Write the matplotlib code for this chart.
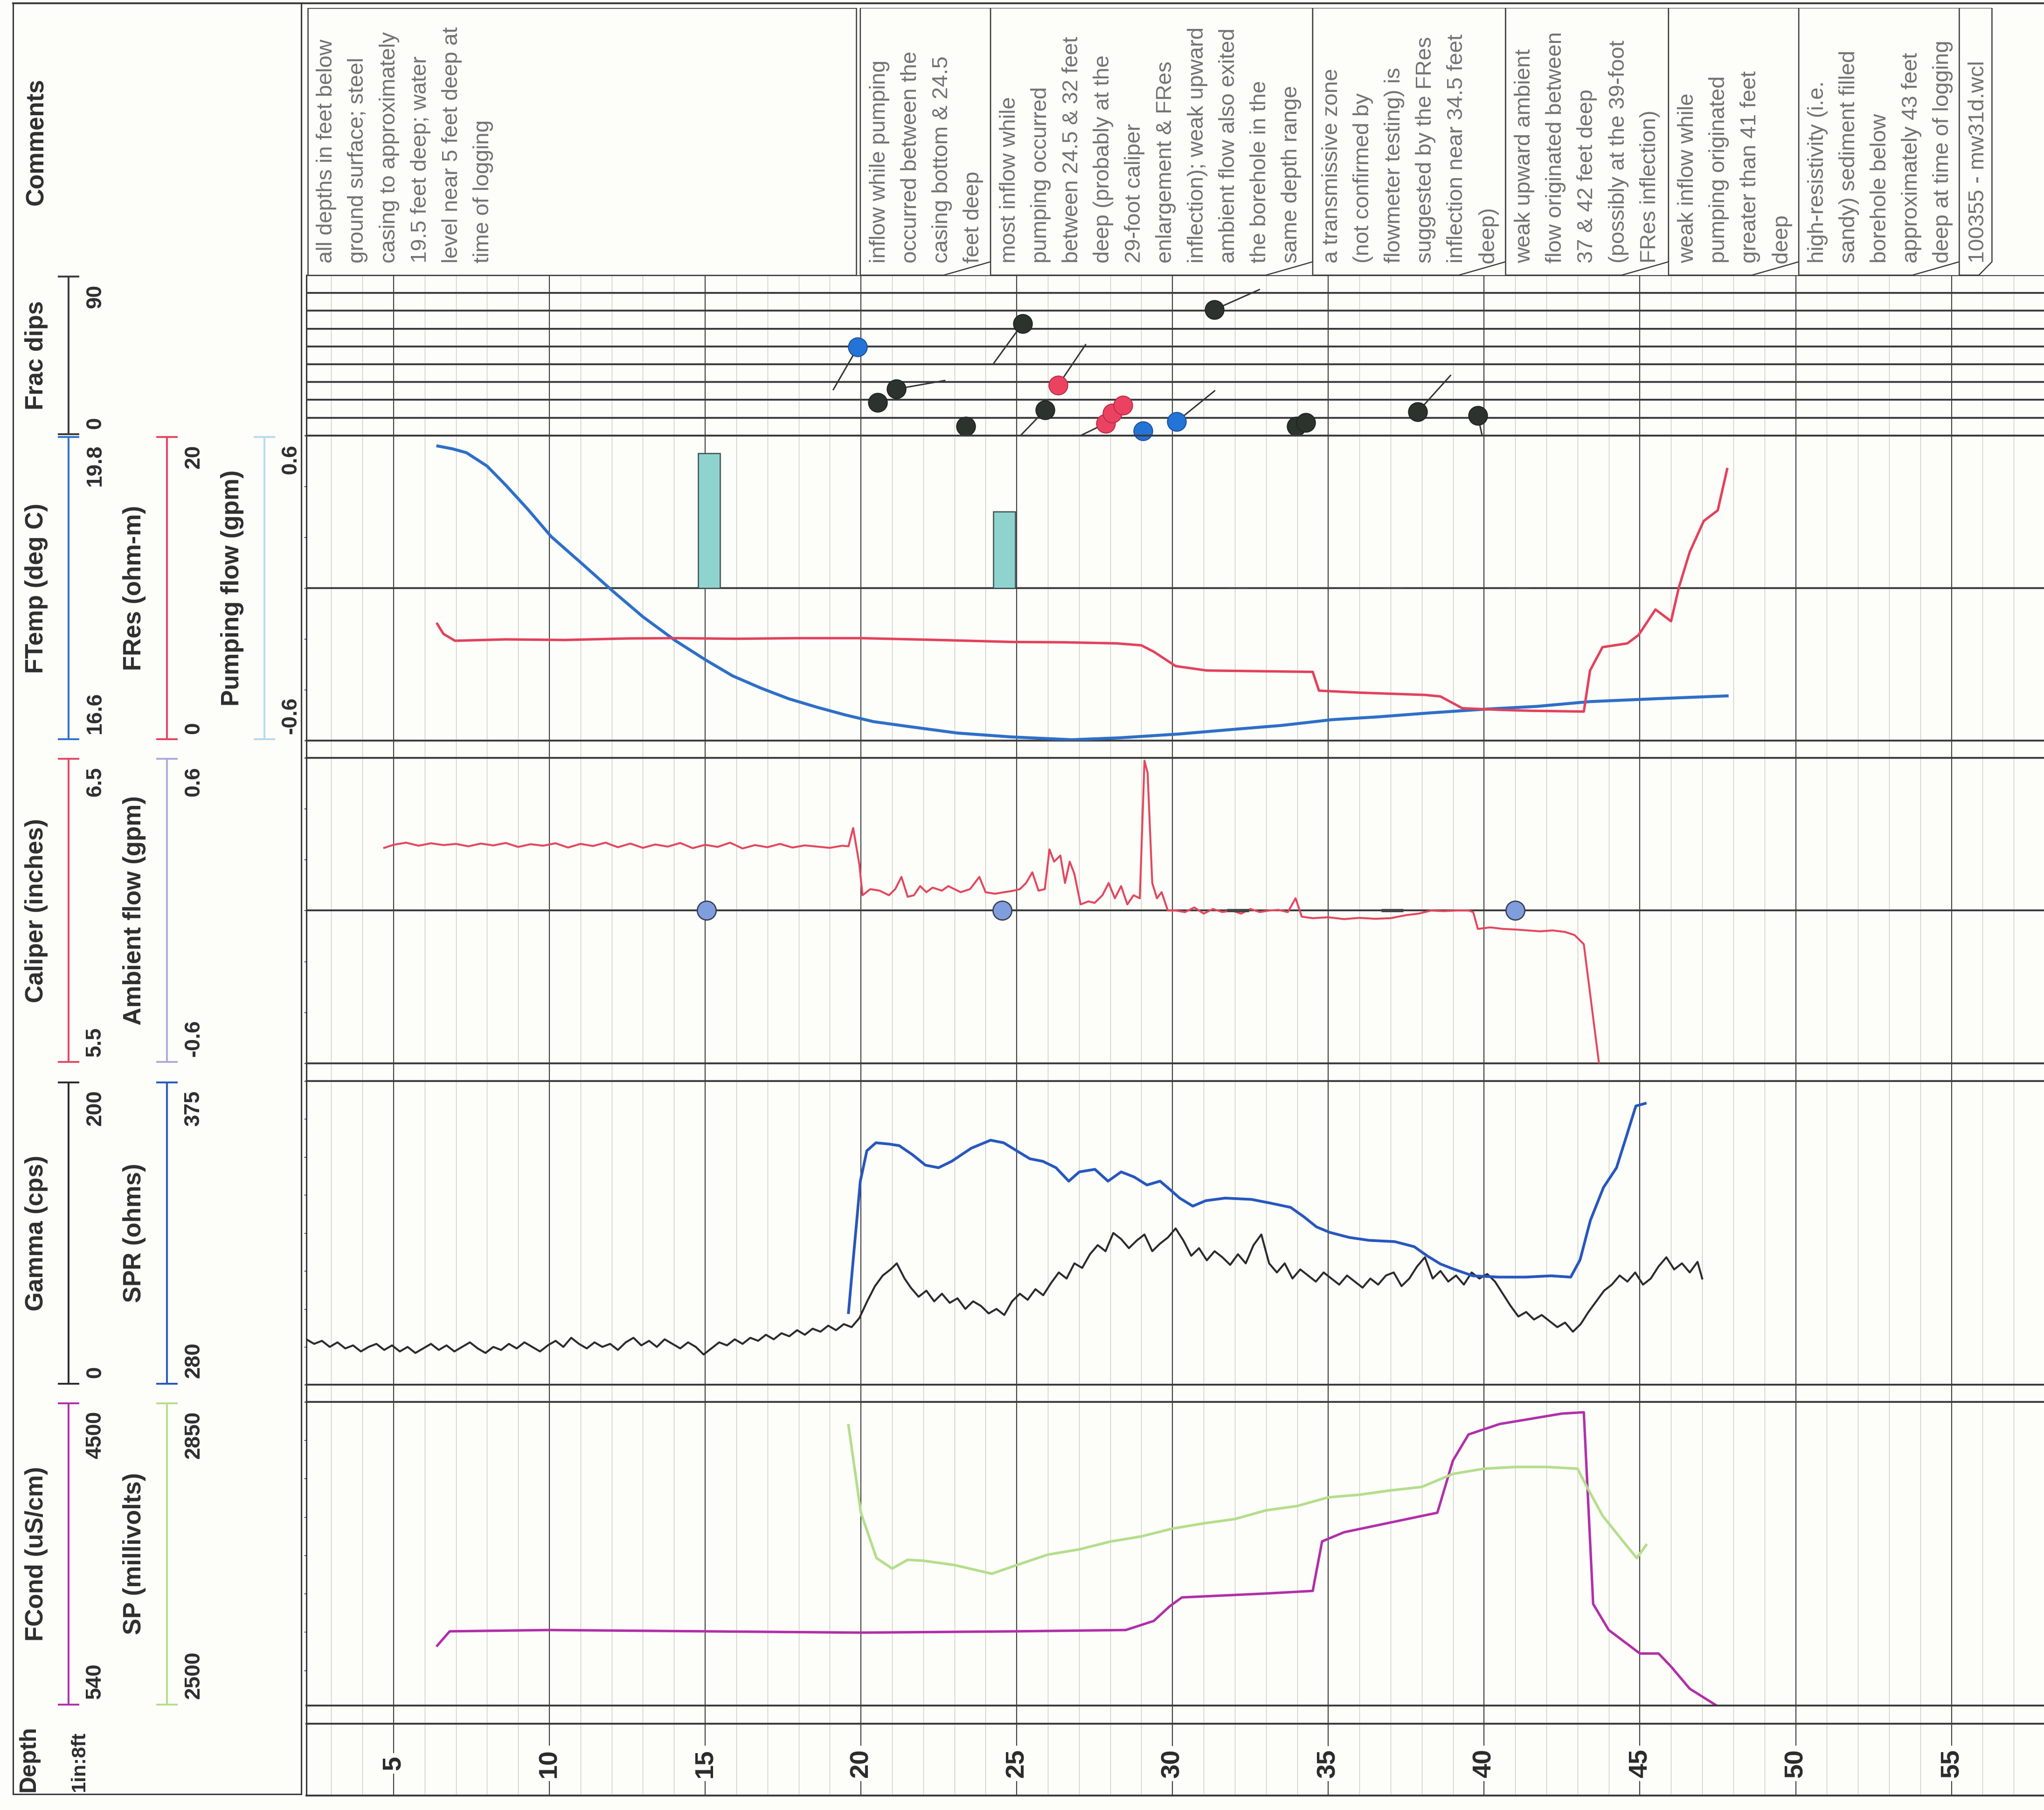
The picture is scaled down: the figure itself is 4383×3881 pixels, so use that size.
import matplotlib
matplotlib.use("Agg")
import numpy as np
import matplotlib.pyplot as plt
from matplotlib import font_manager
from matplotlib.patches import Polygon
from matplotlib.ticker import MultipleLocator

# ---------------------------------------------------------------- data
DEPTH_RANGE = (2.2, 57.97)
DEPTH_LABELS = [5, 10, 15, 20, 25, 30, 35, 40, 45, 50, 55]

# fracture tadpoles: depth (ft), dip (deg), tail azimuth (deg, nan = no tail), class
FRAC_DEPTH = [19.90, 20.54, 21.14, 23.37, 25.19, 25.91, 26.33, 27.85, 28.07, 28.41,
              29.06, 30.13, 31.35, 33.98, 34.28, 37.87, 39.80]
FRAC_DIP = [49.6, 18.5, 26.1, 5.2, 62.9, 14.3, 28.2, 6.8, 12.5, 17.0,
            2.6, 7.8, 70.7, 5.2, 7.3, 13.3, 11.2]
FRAC_AZIMUTH = [210, np.nan, 80, np.nan, 216, 224, 34, 244, np.nan, np.nan,
                np.nan, 51, 66, 190, np.nan, 42, 168]
FRAC_CLASS = ["open", "closed", "closed", "closed", "closed", "closed", "flowing",
              "flowing", "flowing", "flowing", "open", "open", "closed", "closed",
              "closed", "closed", "closed"]

FTEMP_DEPTH = [6.42, 6.9, 7.34, 8.0, 8.6, 9.3, 10.06, 11.0, 12.03, 13.0, 14.04, 15.0,
               15.88, 16.8, 17.68, 18.6, 19.5, 20.4, 21.5, 23.1, 24.8, 26.76, 28.3,
               30.2, 32.0, 33.5, 35.1, 36.6, 38.2, 40.0, 41.7, 43.4, 45.5, 47.8]
FTEMP = [19.69, 19.66, 19.62, 19.48, 19.28, 19.03, 18.74, 18.47, 18.17, 17.90, 17.65,
         17.45, 17.28, 17.15, 17.04, 16.95, 16.87, 16.80, 16.75, 16.68, 16.64, 16.61,
         16.63, 16.67, 16.72, 16.76, 16.82, 16.85, 16.89, 16.93, 16.96, 17.01, 17.04, 17.07]

FRES_DEPTH = [6.4, 6.6, 6.97, 8.6, 10.5, 12.5, 14.04, 16.0, 18.0, 20.0, 22.5, 24.9,
              26.5, 28.2, 29.0, 29.4, 30.1, 31.1, 33.0, 34.5, 34.7, 36.0, 38.1, 38.6,
              39.3, 40.5, 41.5, 43.2, 43.4, 43.8, 44.6, 44.96, 45.5, 46.0, 46.25, 46.6,
              47.05, 47.5, 47.8]
FRES = [7.66, 7.0, 6.55, 6.64, 6.60, 6.70, 6.72, 6.68, 6.72, 6.72, 6.60, 6.47,
        6.45, 6.38, 6.25, 5.83, 4.89, 4.60, 4.55, 4.51, 3.28, 3.15, 3.00, 2.90,
        2.13, 2.02, 1.96, 1.91, 4.60, 6.13, 6.38, 6.93, 8.60, 7.83, 10.04, 12.37,
        14.40, 15.10, 17.80]

PUMP_DEPTH = [15.13, 24.60, 32.10, 37.10, 41.10]
PUMP_FLOW = [0.53, 0.30, 0.0, 0.0, 0.0]

CALIPER_DEPTH = [4.7, 5.0, 5.4, 5.8, 6.2, 6.6, 7.0, 7.4, 7.8, 8.2, 8.6, 9.0, 9.4, 9.8,
                 10.2, 10.6, 11.0, 11.4, 11.8, 12.2, 12.6, 13.0, 13.4, 13.8, 14.2, 14.6,
                 15.0, 15.4, 15.8, 16.2, 16.6, 17.0, 17.4, 17.8, 18.2, 18.6, 19.0, 19.4,
                 19.6, 19.75, 19.95, 20.05, 20.3, 20.6, 20.9, 21.1, 21.3, 21.5, 21.7, 21.9,
                 22.1, 22.3, 22.6, 22.8, 23.0, 23.2, 23.5, 23.8, 24.0, 24.3, 24.6, 24.9,
                 25.1, 25.3, 25.5, 25.7, 25.9, 26.05, 26.2, 26.4, 26.55, 26.7, 26.85, 27.05,
                 27.3, 27.5, 27.75, 27.95, 28.15, 28.35, 28.55, 28.75, 28.95, 29.1, 29.2,
                 29.35, 29.5, 29.65, 29.85, 30.1, 30.4, 30.7, 31.0, 31.3, 31.6, 31.9, 32.2,
                 32.5, 32.8, 33.1, 33.4, 33.7, 33.95, 34.15, 34.5, 35.0, 35.5, 36.0, 36.5,
                 37.0, 37.5, 37.9, 38.3, 38.7, 39.1, 39.5, 39.65, 39.8, 40.2, 40.6, 41.0,
                 41.4, 41.8, 42.2, 42.6, 42.9, 43.2, 43.7]
CALIPER = [6.205, 6.215, 6.222, 6.212, 6.220, 6.214, 6.218, 6.210, 6.219, 6.213, 6.221,
           6.208, 6.217, 6.212, 6.220, 6.206, 6.218, 6.211, 6.222, 6.207, 6.219, 6.205,
           6.216, 6.209, 6.221, 6.204, 6.215, 6.208, 6.222, 6.203, 6.214, 6.207, 6.218,
           6.206, 6.213, 6.209, 6.205, 6.212, 6.210, 6.270, 6.150, 6.050, 6.070, 6.065,
           6.050, 6.070, 6.110, 6.045, 6.050, 6.080, 6.060, 6.075, 6.065, 6.080, 6.070,
           6.060, 6.070, 6.110, 6.060, 6.055, 6.060, 6.065, 6.070, 6.090, 6.125, 6.065,
           6.070, 6.200, 6.160, 6.180, 6.090, 6.160, 6.120, 6.020, 6.030, 6.025, 6.050,
           6.090, 6.040, 6.080, 6.020, 6.050, 6.040, 6.490, 6.450, 6.090, 6.040, 6.060,
           6.000, 6.000, 5.995, 6.010, 5.990, 6.005, 5.995, 6.000, 5.990, 6.005, 5.995,
           6.000, 6.002, 5.995, 6.040, 5.980, 5.975, 5.978, 5.972, 5.976, 5.973, 5.975,
           5.985, 5.990, 6.000, 5.998, 6.000, 6.000, 5.995, 5.940, 5.945, 5.940, 5.938,
           5.935, 5.932, 5.935, 5.930, 5.920, 5.890, 5.490]

AMBIENT_POINT_DEPTH = [15.04, 24.54, 41.00]
AMBIENT_POINT_FLOW = [0.0, 0.0, 0.0]
AMBIENT_BAR_DEPTH = [32.10, 37.05]
AMBIENT_BAR_FLOW = [0.0, 0.0]

GAMMA_DEPTH = [2.2, 2.45, 2.7, 2.95, 3.2, 3.45, 3.7, 3.95, 4.2, 4.45, 4.7, 4.95, 5.2,
               5.45, 5.7, 5.95, 6.2, 6.45, 6.7, 6.95, 7.2, 7.45, 7.7, 7.95, 8.2, 8.45,
               8.7, 8.95, 9.2, 9.45, 9.7, 9.95, 10.2, 10.45, 10.7, 10.95, 11.2, 11.45,
               11.7, 11.95, 12.2, 12.45, 12.7, 12.95, 13.2, 13.45, 13.7, 13.95, 14.2,
               14.45, 14.7, 14.95, 15.2, 15.45, 15.7, 15.95, 16.2, 16.45, 16.7, 16.95,
               17.2, 17.45, 17.7, 17.95, 18.2, 18.45, 18.7, 18.95, 19.2, 19.45, 19.7,
               19.95, 20.2, 20.45, 20.7, 20.95, 21.15, 21.4, 21.6, 21.85, 22.1, 22.35,
               22.6, 22.85, 23.1, 23.35, 23.6, 23.85, 24.1, 24.35, 24.6, 24.85, 25.1,
               25.35, 25.6, 25.85, 26.1, 26.35, 26.6, 26.85, 27.1, 27.35, 27.6, 27.85,
               28.1, 28.35, 28.6, 28.85, 29.1, 29.35, 29.6, 29.85, 30.1, 30.35, 30.6,
               30.85, 31.1, 31.35, 31.6, 31.85, 32.1, 32.35, 32.6, 32.85, 33.1, 33.35,
               33.6, 33.85, 34.1, 34.35, 34.6, 34.85, 35.1, 35.35, 35.6, 35.85, 36.1,
               36.35, 36.6, 36.85, 37.1, 37.35, 37.6, 37.85, 38.1, 38.35, 38.6, 38.85,
               39.1, 39.35, 39.6, 39.85, 40.1, 40.35, 40.6, 40.85, 41.1, 41.35, 41.6,
               41.85, 42.1, 42.35, 42.6, 42.85, 43.1, 43.35, 43.6, 43.85, 44.1, 44.35,
               44.6, 44.85, 45.1, 45.35, 45.6, 45.85, 46.1, 46.35, 46.6, 46.85, 47.0]
GAMMA = [30, 27, 29, 25, 28, 24, 26, 22, 25, 27, 23, 26, 22, 25, 21, 24, 27, 23, 26,
         22, 25, 28, 24, 21, 25, 23, 27, 24, 28, 25, 22, 26, 29, 25, 31, 27, 24, 28,
         25, 27, 23, 28, 31, 26, 29, 25, 30, 27, 24, 28, 25, 20, 24, 28, 26, 30, 27,
         31, 29, 33, 30, 34, 32, 36, 33, 37, 35, 39, 36, 40, 38, 44, 55, 65, 72, 76,
         80, 70, 64, 58, 62, 55, 60, 54, 57, 50, 55, 52, 47, 50, 46, 55, 60, 56, 63,
         59, 67, 74, 70, 80, 77, 86, 92, 88, 100, 96, 90, 95, 99, 88, 93, 97, 103, 95,
         85, 90, 82, 88, 84, 79, 86, 80, 92, 99, 80, 74, 80, 70, 76, 72, 68, 74, 70,
         66, 72, 68, 64, 70, 66, 72, 74, 65, 70, 78, 84, 70, 75, 68, 72, 66, 74, 70,
         73, 68, 60, 52, 45, 48, 43, 46, 42, 38, 41, 35, 40, 48, 55, 62, 66, 72, 68,
         74, 66, 70, 78, 84, 76, 80, 74, 81, 70]

SPR_DEPTH = [19.60, 19.77, 19.98, 20.19, 20.48, 20.90, 21.23, 21.65, 22.07, 22.49,
             22.91, 23.54, 24.16, 24.58, 25.00, 25.42, 25.84, 26.26, 26.67, 27.01,
             27.51, 27.93, 28.35, 28.77, 29.18, 29.60, 29.94, 30.23, 30.65, 31.07,
             31.69, 32.53, 33.16, 33.79, 34.21, 34.62, 35.04, 35.67, 36.30, 37.13,
             37.76, 38.18, 38.60, 39.02, 39.64, 40.48, 41.32, 42.15, 42.78, 43.08,
             43.41, 43.83, 44.25, 44.58, 44.87, 45.17]
SPR = [302.6, 321.1, 343.7, 353.2, 355.7, 355.3, 354.8, 352.0, 348.7, 347.9, 349.9,
       354.0, 356.5, 355.7, 353.2, 350.7, 349.9, 347.9, 343.7, 346.6, 347.4, 343.7,
       346.6, 345.0, 342.5, 343.7, 340.9, 338.4, 335.9, 337.6, 338.4, 338.0, 336.8,
       335.5, 332.6, 329.4, 327.7, 326.1, 325.2, 324.8, 323.2, 320.3, 317.8, 316.2,
       314.1, 313.7, 313.7, 314.1, 313.7, 319.1, 331.4, 341.7, 347.9, 358.1, 367.2, 368.0]

FCOND_DEPTH = [6.4, 6.8, 10.0, 15.0, 20.0, 25.0, 28.5, 29.4, 29.9, 30.3, 33.0, 34.5,
               34.8, 35.5, 38.5, 39.0, 39.5, 40.5, 42.5, 43.2, 43.5, 44.0, 45.0, 45.6,
               46.0, 46.6, 47.6]
FCOND = [1322, 1509, 1526, 1509, 1492, 1509, 1526, 1645, 1832, 1951, 2002, 2036, 2681,
         2800, 3055, 3735, 4075, 4211, 4347, 4364, 1866, 1526, 1220, 1220, 1050, 761, 506]

SP_DEPTH = [19.6, 20.0, 20.5, 21.0, 21.5, 22.0, 23.0, 24.2, 25.0, 26.0, 27.0, 28.0,
            29.0, 30.0, 31.0, 32.0, 33.0, 34.0, 35.0, 36.0, 37.0, 38.0, 39.0, 40.0,
            41.0, 42.0, 43.0, 43.3, 43.8, 44.4, 44.9, 45.2]
SP = [2823, 2722, 2670, 2658, 2668, 2667, 2662, 2652, 2662, 2674, 2680, 2689, 2695,
      2704, 2710, 2715, 2725, 2730, 2740, 2743, 2748, 2752, 2767, 2773, 2775, 2775,
      2773, 2752, 2719, 2692, 2670, 2685]

# curve scales (left, right) as shown in the header
FRAC_SCALE = (0, 90)
FTEMP_SCALE = (16.6, 19.8)
FRES_SCALE = (0, 20)
PUMP_SCALE = (-0.6, 0.6)
CALIPER_SCALE = (5.5, 6.5)
AMBIENT_SCALE = (-0.6, 0.6)
GAMMA_SCALE = (0, 200)
SPR_SCALE = (280, 375)
FCOND_SCALE = (540, 4500)
SP_SCALE = (2500, 2850)

# comment intervals (top, bottom), text, and whether the box has a pointer corner
COMMENTS = [
    (2.24, 19.85, "all depths in feet below\nground surface; steel\ncasing to approximately\n"
                  "19.5 feet deep; water\nlevel near 5 feet deep at\ntime of logging", False),
    (19.98, 24.16, "inflow while pumping\noccurred between the\ncasing bottom & 24.5\n"
                   "feet deep", True),
    (24.16, 34.50, "most inflow while\npumping occurred\nbetween 24.5 & 32 feet\n"
                   "deep (probably at the\n29-foot caliper\nenlargement & FRes\n"
                   "inflection); weak upward\nambient flow also exited\n"
                   "the borehole in the\nsame depth range", True),
    (34.50, 40.69, "a transmissive zone\n(not confirmed by\nflowmeter testing) is\n"
                   "suggested by the FRes\ninflection near 34.5 feet\ndeep)", True),
    (40.69, 45.92, "weak upward ambient\nflow originated between\n37 & 42 feet deep\n"
                   "(possibly at the 39-foot\nFRes inflection)", True),
    (45.92, 50.10, "weak inflow while\npumping originated\ngreater than 41 feet\ndeep", True),
    (50.10, 55.25, "high-resistivity (i.e.\nsandy) sediment filled\nborehole below\n"
                   "approximately 43 feet\ndeep at time of logging", True),
    (55.25, 56.30, "100355 - mw31d.wcl", True),
]

# ---------------------------------------------------------------- style
PAPER = "#fdfdf9"
INK = "#3a3a3a"
C_TEMP = "#2e6fc8"
C_RES = "#e2425c"
C_PUMP = "#b7dbec"
C_CAL = "#e2485e"
C_AMB = "#aaaadb"
C_GAMMA = "#2b2b2b"
C_SPR = "#2757be"
C_COND = "#b12fa8"
C_SP = "#b4de8c"
FRAC_COLORS = {"open": "#2473d6", "closed": "#2c322c", "flowing": "#ec4262"}
FRAC_EDGES = {"open": "#1b4f9a", "closed": "#1f231f", "flowing": "#b82b48"}

names = {f.name for f in font_manager.fontManager.ttflist}
if "Liberation Sans Narrow" in names:
    HEAD_FONT, HEAD_SIZE, NUM_SIZE = "Liberation Sans Narrow", 46, 40
else:
    HEAD_FONT, HEAD_SIZE, NUM_SIZE = "Liberation Sans", 38, 33
BODY_FONT = "Liberation Sans"

W_PX, H_PX, DPI = 4383, 3881, 100
REF_W, REF_H = 1568.0, 1388.0          # layout frame used below
PLOT_X0, PLOT_X1 = 235.0, 1568.0
TRACKS = {
    "comments": (6, 211),
    "frac": (211, 334),
    "temp": (334, 568),
    "caliper": (581, 815.5),
    "gamma": (829, 1062),
    "cond": (1075, 1308),
    "depth": (1322, 1377),
}

fig = plt.figure(figsize=(W_PX / DPI, H_PX / DPI), dpi=DPI, facecolor=PAPER)

# overlay in layout units for the header column and outer frame
frame = fig.add_axes([0, 0, 1, 1], zorder=0)
frame.set_xlim(0, REF_W)
frame.set_ylim(REF_H, 0)
frame.axis("off")
frame.patch.set_alpha(0)


def plot_axes(y0, y1, zorder=2):
    ax = fig.add_axes([PLOT_X0 / REF_W, 1 - y1 / REF_H,
                       (PLOT_X1 - PLOT_X0) / REF_W, (y1 - y0) / REF_H], zorder=zorder)
    ax.set_xlim(*DEPTH_RANGE)
    ax.patch.set_alpha(0)
    ax.tick_params(left=False, right=False, bottom=False, top=False,
                   labelleft=False, labelbottom=False, labelright=False)
    for s in ax.spines.values():
        s.set_visible(False)
    return ax


def twin(ax):
    t = ax.twinx()
    t.patch.set_alpha(0)
    t.tick_params(left=False, right=False, labelright=False, labelleft=False)
    for s in t.spines.values():
        s.set_visible(False)
    return t


def frame_track(ax, lw=2.8):
    for side in ("top", "bottom"):
        ax.spines[side].set_visible(True)
        ax.spines[side].set_color(INK)
        ax.spines[side].set_linewidth(lw)


# background depth grid
grid = plot_axes(TRACKS["frac"][0], TRACKS["depth"][1], zorder=1)
grid.set_ylim(0, 1)
grid.xaxis.set_major_locator(MultipleLocator(5))
grid.xaxis.set_minor_locator(MultipleLocator(1))
grid.tick_params(which="both", bottom=False, labelbottom=False)
grid.grid(which="minor", axis="x", color="#c9c9c4", lw=1.0)
grid.grid(which="major", axis="x", color="#3c3c3c", lw=1.5)
grid.spines["left"].set_visible(True)
grid.spines["left"].set_color(INK)
grid.spines["left"].set_linewidth(2.2)

# ---------------------------------------------------------------- comments
com = plot_axes(*TRACKS["comments"])
com.set_ylim(0, 1)
for x0, x1, txt, pointer in COMMENTS:
    cut = min(1.5, 0.4 * (x1 - x0)) if pointer else 0.0
    rise = 0.05 if pointer else 0.0
    poly = Polygon([(x0, 1.0), (x1, 1.0), (x1, rise), (x1 - cut, 0.0), (x0, 0.0)],
                   closed=True, facecolor=PAPER, edgecolor=INK, lw=1.8)
    com.add_patch(poly)
    com.text(x0 + 0.28, 0.045, txt, rotation=90, rotation_mode="anchor", ha="left",
             va="top", fontsize=34, color="#727272", family=BODY_FONT, linespacing=1.68)

# ---------------------------------------------------------------- fracture dips
frac = plot_axes(*TRACKS["frac"])
frac.set_ylim(*FRAC_SCALE)
frac.set_yticks(np.arange(FRAC_SCALE[0], FRAC_SCALE[1] + 1, 10))
frac.tick_params(left=False, labelleft=False)
frac.grid(axis="y", color=INK, lw=2.8)
frac.set_axisbelow(True)
TAIL_PX = 105
for d, dip, az, kind in zip(FRAC_DEPTH, FRAC_DIP, FRAC_AZIMUTH, FRAC_CLASS):
    if not np.isnan(az):
        p0 = frac.transData.transform((d, dip))
        a = np.deg2rad(az)
        p1 = p0 + TAIL_PX * np.array([np.sin(a), np.cos(a)])
        q1 = frac.transData.inverted().transform(p1)
        frac.plot([d, q1[0]], [dip, q1[1]], color="#333333", lw=2.2, zorder=3)
    frac.plot(d, dip, "o", ms=29, color=FRAC_COLORS[kind], mec=FRAC_EDGES[kind],
              mew=1.5, zorder=4, clip_on=False)

# ---------------------------------------------------------------- temperature / resistivity / pumping
tax = plot_axes(*TRACKS["temp"])
frame_track(tax)
tax.set_ylim(*PUMP_SCALE)
tax.axhline(0, color=INK, lw=2.8)
tax.bar(PUMP_DEPTH, PUMP_FLOW, width=0.7, color="#8fd3cf", edgecolor="#3e4d4d",
        lw=1.8, zorder=2)
ttemp = twin(tax)
ttemp.set_ylim(*FTEMP_SCALE)
ttemp.plot(FTEMP_DEPTH, FTEMP, color=C_TEMP, lw=4.6)
tres = twin(tax)
tres.set_ylim(*FRES_SCALE)
tres.plot(FRES_DEPTH, FRES, color=C_RES, lw=3.8)

# ---------------------------------------------------------------- caliper / ambient flow
cax = plot_axes(*TRACKS["caliper"])
frame_track(cax)
cax.set_ylim(*AMBIENT_SCALE)
cax.axhline(0, color=INK, lw=2.8)
ccal = twin(cax)
ccal.set_ylim(*CALIPER_SCALE)
ccal.plot(CALIPER_DEPTH, CALIPER, color=C_CAL, lw=3.0, zorder=3)
amb = twin(cax)
amb.set_ylim(*AMBIENT_SCALE)
amb.bar(AMBIENT_BAR_DEPTH, AMBIENT_BAR_FLOW, width=0.7, color="#555555",
        edgecolor="#444444", lw=5, zorder=2)
amb.plot(AMBIENT_POINT_DEPTH, AMBIENT_POINT_FLOW, "o", ms=29, color="#7f9edd",
         mec="#3b3f55", mew=2.0, ls="none", zorder=4)

# ---------------------------------------------------------------- gamma / SPR
gax = plot_axes(*TRACKS["gamma"])
frame_track(gax)
gax.set_ylim(*GAMMA_SCALE)
gax.plot(GAMMA_DEPTH, GAMMA, color=C_GAMMA, lw=3.0)
gspr = twin(gax)
gspr.set_ylim(*SPR_SCALE)
gspr.plot(SPR_DEPTH, SPR, color=C_SPR, lw=4.2)

# ---------------------------------------------------------------- fluid conductivity / SP
fax = plot_axes(*TRACKS["cond"])
frame_track(fax)
fax.set_ylim(*FCOND_SCALE)
fax.plot(FCOND_DEPTH, FCOND, color=C_COND, lw=3.8)
fsp = twin(fax)
fsp.set_ylim(*SP_SCALE)
fsp.plot(SP_DEPTH, SP, color=C_SP, lw=4.0)

# ---------------------------------------------------------------- depth scale
dax = plot_axes(*TRACKS["depth"])
frame_track(dax)
dax.set_ylim(0, 1)
for d in DEPTH_LABELS:
    dax.text(d, 0.45, f"{d}", rotation=90, ha="center", va="center", fontsize=40,
             fontweight="bold", family=HEAD_FONT, color="#2a2a2a",
             bbox=dict(boxstyle="square,pad=0.12", fc=PAPER, ec="none"))

# ---------------------------------------------------------------- header column
HEAD_X0, HEAD_X1 = 10, 231
frame.plot([HEAD_X0, REF_W], [2.5, 2.5], color=INK, lw=2.8)
frame.plot([HEAD_X0, HEAD_X0], [2.5, 1376], color=INK, lw=2.2)
frame.plot([HEAD_X1, HEAD_X1], [2.5, 1376], color=INK, lw=2.2)
frame.plot([HEAD_X0, HEAD_X1], [1376, 1376], color=INK, lw=2.2)

TITLE_X = [28, 103, 178]
BAR_X = [52.5, 128, 203]
NUM_X = [73, 148.5, 223]
HEADER = {
    "frac": [("Frac dips", FRAC_SCALE, "#3a3a3a")],
    "temp": [("FTemp (deg C)", FTEMP_SCALE, C_TEMP), ("FRes (ohm-m)", FRES_SCALE, C_RES),
             ("Pumping flow (gpm)", PUMP_SCALE, C_PUMP)],
    "caliper": [("Caliper (inches)", CALIPER_SCALE, C_CAL),
                ("Ambient flow (gpm)", AMBIENT_SCALE, C_AMB)],
    "gamma": [("Gamma (cps)", GAMMA_SCALE, C_GAMMA), ("SPR (ohms)", SPR_SCALE, C_SPR)],
    "cond": [("FCond (uS/cm)", FCOND_SCALE, C_COND), ("SP (millivolts)", SP_SCALE, C_SP)],
}
head_kw = dict(family=HEAD_FONT, fontweight="bold", color="#2e2e2e")

y0c, y1c = TRACKS["comments"]
frame.text(TITLE_X[0], (y0c + y1c) / 2, "Comments", rotation=90, ha="center",
           va="center", fontsize=HEAD_SIZE, **head_kw)

for key, cols in HEADER.items():
    y0, y1 = TRACKS[key]
    y0 += 1
    y1 -= 1
    for i, (title, (lo, hi), col) in enumerate(cols):
        frame.text(TITLE_X[i], (y0 + y1) / 2, title, rotation=90, ha="center",
                   va="center", fontsize=HEAD_SIZE, **head_kw)
        frame.plot([BAR_X[i], BAR_X[i]], [y0, y1], color=col, lw=2.8,
                   solid_capstyle="butt")
        for yy in (y0, y1):
            frame.plot([BAR_X[i] - 7.5, BAR_X[i] + 7.5], [yy, yy], color=col, lw=2.8)
        frame.text(NUM_X[i], y1 - 4, f"{lo:g}", rotation=90, ha="center", va="bottom",
                   fontsize=NUM_SIZE, **head_kw)
        frame.text(NUM_X[i], y0 + 6, f"{hi:g}", rotation=90, ha="center", va="top",
                   fontsize=NUM_SIZE, **head_kw)

yd0, yd1 = TRACKS["depth"]
frame.text(22, yd1 - 3, "Depth", rotation=90, ha="center", va="bottom",
           fontsize=HEAD_SIZE - 2, **head_kw)
frame.text(61, yd1 - 3, "1in:8ft", rotation=90, ha="center", va="bottom",
           fontsize=NUM_SIZE - 2, **head_kw)

fig.savefig("out.png", dpi=DPI, facecolor=PAPER)
